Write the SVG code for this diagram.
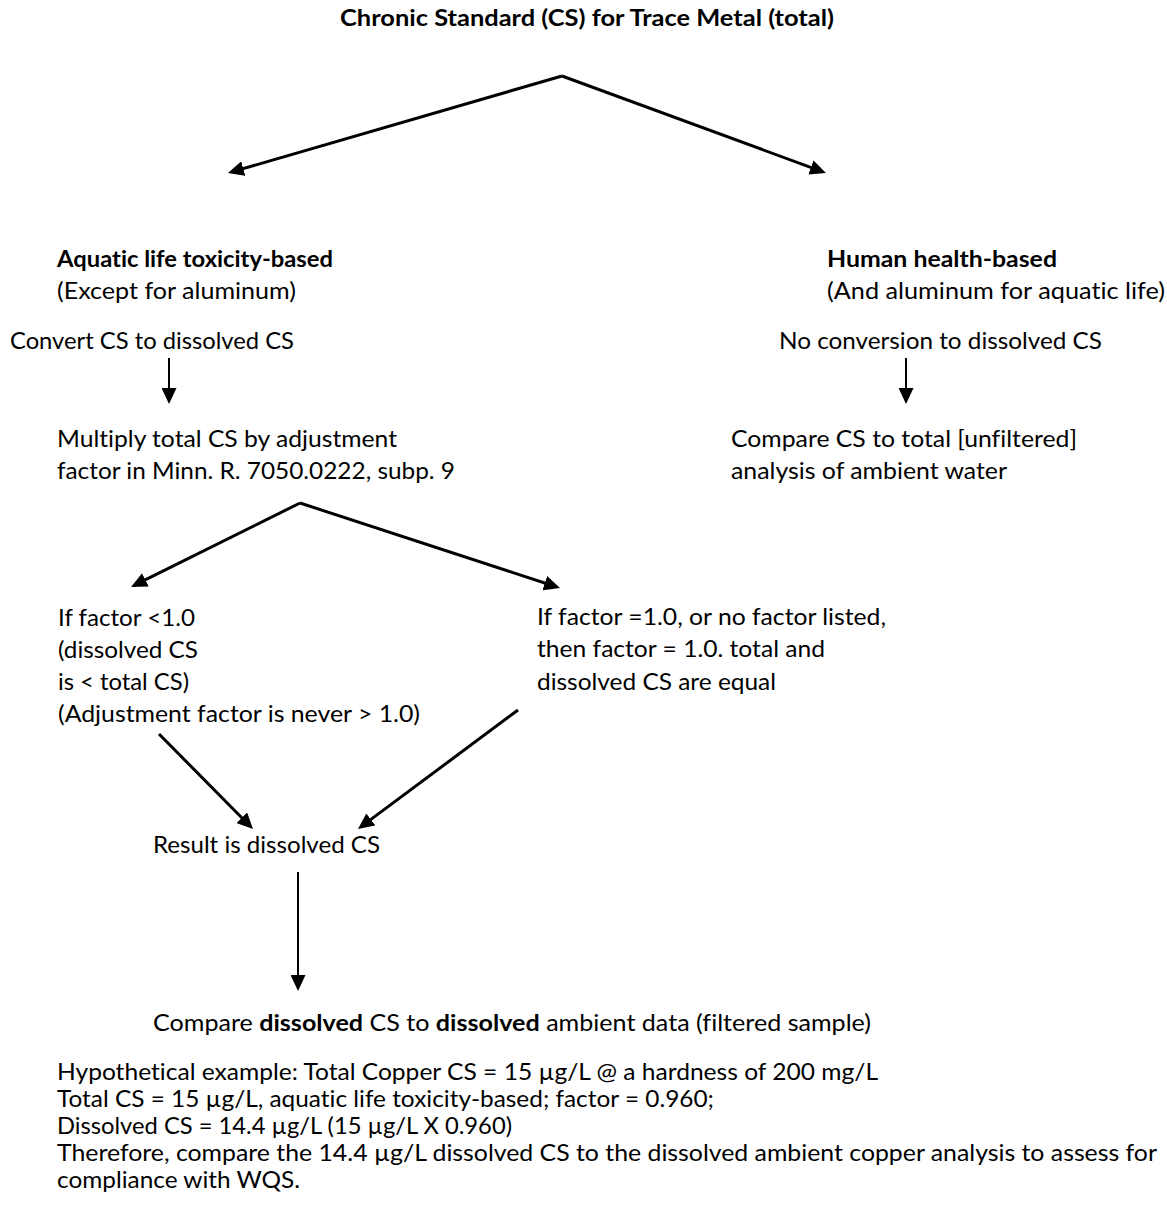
<svg xmlns="http://www.w3.org/2000/svg" width="1167" height="1215" viewBox="0 0 1167 1215">
<defs>
<style>
text{font-family:Lato,"Liberation Sans",Arial,sans-serif;font-size:22.5px;fill:#000;font-variant-ligatures:none;font-feature-settings:"liga" 0}
.b{font-weight:bold}
.c line{stroke:#000;stroke-width:3;fill:none}
.c line.thin{stroke-width:2}
</style>
<marker id="ah" markerUnits="userSpaceOnUse" markerWidth="16" markerHeight="15" refX="12" refY="7.5" orient="auto" viewBox="0 0 16 15">
<path d="M0,0 L16,7.5 L0,15 z" fill="#000"/>
</marker>
</defs>
<rect width="1167" height="1215" fill="#fff"/>
<g id="title"><text class="b" x="340" y="26" textLength="494" lengthAdjust="spacingAndGlyphs">Chronic Standard (CS) for Trace Metal (total)</text></g>
<g id="aquatic">
<text class="b" x="57" y="267" textLength="276" lengthAdjust="spacingAndGlyphs">Aquatic life toxicity-based</text>
<text x="57" y="299" textLength="239" lengthAdjust="spacingAndGlyphs">(Except for aluminum)</text>
</g>
<g id="convert"><text x="10" y="349" textLength="284" lengthAdjust="spacingAndGlyphs">Convert CS to dissolved CS</text></g>
<g id="multiply">
<text x="57" y="447" textLength="340" lengthAdjust="spacingAndGlyphs">Multiply total CS by adjustment</text>
<text x="57" y="479" textLength="398" lengthAdjust="spacingAndGlyphs">factor in Minn. R. 7050.0222, subp. 9</text>
</g>
<g id="human">
<text class="b" x="827" y="267" textLength="230" lengthAdjust="spacingAndGlyphs">Human health-based</text>
<text x="827" y="299" textLength="338" lengthAdjust="spacingAndGlyphs">(And aluminum for aquatic life)</text>
</g>
<g id="noconv"><text x="779" y="349" textLength="323" lengthAdjust="spacingAndGlyphs">No conversion to dissolved CS</text></g>
<g id="comparetotal">
<text x="731" y="447" textLength="346" lengthAdjust="spacingAndGlyphs">Compare CS to total [unfiltered]</text>
<text x="731" y="479" textLength="276" lengthAdjust="spacingAndGlyphs">analysis of ambient water</text>
</g>
<g id="factorless">
<text x="58" y="626" textLength="137" lengthAdjust="spacingAndGlyphs">If factor &lt;1.0</text>
<text x="58" y="658" textLength="140" lengthAdjust="spacingAndGlyphs">(dissolved CS</text>
<text x="58" y="690" textLength="131" lengthAdjust="spacingAndGlyphs">is &lt; total CS)</text>
<text x="58" y="722" textLength="362" lengthAdjust="spacingAndGlyphs">(Adjustment factor is never &gt; 1.0)</text>
</g>
<g id="factorone">
<text x="537" y="625" textLength="349" lengthAdjust="spacingAndGlyphs">If factor =1.0, or no factor listed,</text>
<text x="537" y="657" textLength="288" lengthAdjust="spacingAndGlyphs">then factor = 1.0. total and</text>
<text x="537" y="690" textLength="239" lengthAdjust="spacingAndGlyphs">dissolved CS are equal</text>
</g>
<g id="result"><text x="153" y="853" textLength="227" lengthAdjust="spacingAndGlyphs">Result is dissolved CS</text></g>
<g id="comparedissolved"><text x="153" y="1031" textLength="718" lengthAdjust="spacingAndGlyphs">Compare <tspan class="b">dissolved</tspan> CS to <tspan class="b">dissolved</tspan> ambient data (filtered sample)</text></g>
<g id="example">
<text x="57" y="1080" textLength="821" lengthAdjust="spacingAndGlyphs">Hypothetical example: Total Copper CS = 15 µg/L @ a hardness of 200 mg/L</text>
<text x="57" y="1107" textLength="657" lengthAdjust="spacingAndGlyphs">Total CS = 15 µg/L, aquatic life toxicity-based; factor = 0.960;</text>
<text x="57" y="1134" textLength="455" lengthAdjust="spacingAndGlyphs">Dissolved CS = 14.4 µg/L (15 µg/L X 0.960)</text>
<text x="57" y="1161" textLength="1100" lengthAdjust="spacingAndGlyphs">Therefore, compare the 14.4 µg/L dissolved CS to the dissolved ambient copper analysis to assess for</text>
<text x="57" y="1188" textLength="243" lengthAdjust="spacingAndGlyphs">compliance with WQS.</text>
</g>
<g id="connectors" class="c">
<line x1="562" y1="76" x2="231.8" y2="171.9" marker-end="url(#ah)"/>
<line x1="562" y1="76" x2="822.2" y2="171.6" marker-end="url(#ah)"/>
<line class="thin" x1="169" y1="358" x2="169" y2="400" marker-end="url(#ah)"/>
<line class="thin" x1="906" y1="358" x2="906" y2="400" marker-end="url(#ah)"/>
<line x1="300" y1="503" x2="134.6" y2="585.2" marker-end="url(#ah)"/>
<line x1="300" y1="503" x2="556.2" y2="586.8" marker-end="url(#ah)"/>
<line x1="159" y1="734" x2="250.2" y2="826.2" marker-end="url(#ah)"/>
<line x1="518" y1="710" x2="361.2" y2="826.6" marker-end="url(#ah)"/>
<line class="thin" x1="298" y1="872" x2="298" y2="987" marker-end="url(#ah)"/>
</g>
</svg>
